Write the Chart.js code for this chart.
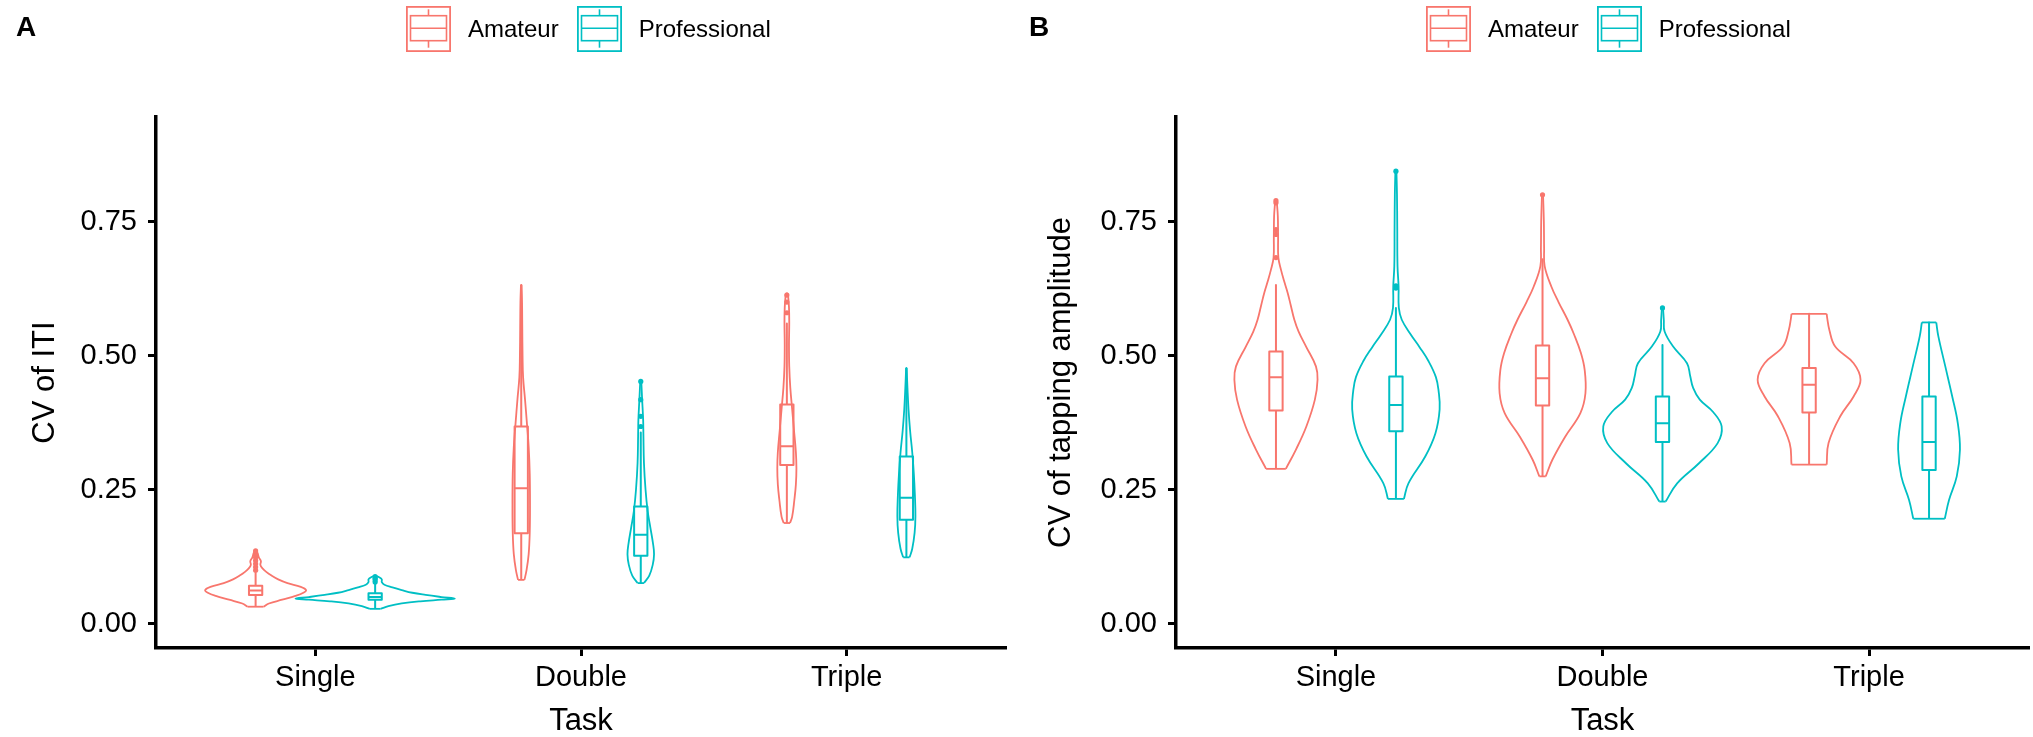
<!DOCTYPE html>
<html>
<head>
<meta charset="utf-8">
<script src="https://cdn.jsdelivr.net/npm/chart.js@4.4.1/dist/chart.umd.min.js"></script>
<style>
  html, body { margin: 0; padding: 0; background: #fff; }
  #wrap { position: relative; width: 2033px; height: 737px; overflow: hidden; background: #fff;
          font-family: "Liberation Sans", Arial, Helvetica, sans-serif; }
  #wrap canvas { position: absolute; top: 0; }
  .tag { position: absolute; top: 13px; font-weight: bold; font-size: 28px; line-height: 28px; color: #000; }
  .legend { position: absolute; top: 6px; height: 46px; display: flex; align-items: center;
            font-size: 24px; line-height: 24px; color: #000; white-space: nowrap; }
  .legend svg { display: block; }
</style>
</head>
<body>
<div id="wrap">
  <canvas id="chartA" width="1016" height="737" style="left:0px"></canvas>
  <canvas id="chartB" width="1017" height="737" style="left:1016px"></canvas>
  <div class="tag" style="left:16px">A</div>
  <div class="tag" style="left:1029px">B</div>
  <div class="legend" id="legendA" style="left:406px"></div>
  <div class="legend" id="legendB" style="left:1426px"></div>
</div>
<script>
// ---------------- data ----------------
const categories = ['Single', 'Double', 'Triple'];
const groups = ['Amateur', 'Professional'];
const yTickValues = [0, 0.25, 0.5, 0.75];

// Panel A : CV of ITI — violin outlines (value, half-width in category units)
const itiAmSingleY = [0.032, 0.038, 0.045, 0.052, 0.058, 0.063, 0.069, 0.076, 0.083, 0.090, 0.097, 0.104, 0.110, 0.117, 0.124, 0.131, 0.136];
const itiAmSingleW = [0.030, 0.050, 0.100, 0.150, 0.180, 0.190, 0.170, 0.120, 0.085, 0.060, 0.040, 0.025, 0.018, 0.020, 0.012, 0.008, 0.004];
const itiProSingleY = [0.028, 0.033, 0.038, 0.042, 0.045, 0.047, 0.050, 0.054, 0.058, 0.063, 0.068, 0.073, 0.078, 0.083, 0.087, 0.089];
const itiProSingleW = [0.020, 0.050, 0.100, 0.170, 0.250, 0.300, 0.250, 0.190, 0.140, 0.100, 0.065, 0.035, 0.025, 0.025, 0.015, 0.004];
const itiAmDoubleY = [0.082, 0.100, 0.130, 0.170, 0.220, 0.280, 0.330, 0.370, 0.420, 0.460, 0.500, 0.550, 0.600, 0.632];
const itiAmDoubleW = [0.012, 0.020, 0.028, 0.032, 0.033, 0.032, 0.028, 0.022, 0.014, 0.007, 0.005, 0.004, 0.003, 0.001];
const itiProDoubleY = [0.076, 0.090, 0.110, 0.130, 0.150, 0.180, 0.210, 0.250, 0.300, 0.350, 0.380, 0.420, 0.452];
const itiProDoubleW = [0.012, 0.032, 0.045, 0.050, 0.046, 0.036, 0.026, 0.018, 0.012, 0.010, 0.009, 0.005, 0.002];
const itiAmTripleY = [0.188, 0.200, 0.230, 0.260, 0.290, 0.320, 0.360, 0.400, 0.440, 0.480, 0.520, 0.560, 0.590, 0.616];
const itiAmTripleW = [0.012, 0.020, 0.028, 0.034, 0.036, 0.034, 0.027, 0.020, 0.013, 0.009, 0.008, 0.009, 0.008, 0.004];
const itiProTripleY = [0.124, 0.140, 0.170, 0.200, 0.240, 0.280, 0.320, 0.360, 0.400, 0.440, 0.477];
const itiProTripleW = [0.012, 0.022, 0.031, 0.034, 0.032, 0.028, 0.022, 0.014, 0.008, 0.004, 0.001];

// Panel A box plots (per task: Single, Double, Triple)
const itiAmLower    = [0.032, 0.082, 0.188];
const itiAmQ1       = [0.054, 0.169, 0.296];
const itiAmMedian   = [0.062, 0.253, 0.331];
const itiAmQ3       = [0.071, 0.368, 0.409];
const itiAmUpper    = [0.095, 0.632, 0.560];
const itiAmOutliers = [[0.100, 0.106, 0.112, 0.118, 0.124, 0.130, 0.136], [], [0.580, 0.600, 0.613]];
const itiProLower    = [0.028, 0.076, 0.124];
const itiProQ1       = [0.045, 0.127, 0.194];
const itiProMedian   = [0.050, 0.166, 0.235];
const itiProQ3       = [0.057, 0.219, 0.312];
const itiProUpper    = [0.075, 0.357, 0.477];
const itiProOutliers = [[0.078, 0.082, 0.085, 0.088], [0.368, 0.387, 0.418, 0.452], []];

// Panel B : CV of tapping amplitude — violin outlines
const ampAmSingleY = [0.289, 0.325, 0.368, 0.418, 0.455, 0.480, 0.517, 0.545, 0.567, 0.595, 0.617, 0.640, 0.660, 0.683, 0.720, 0.760, 0.788];
const ampAmSingleW = [0.037, 0.075, 0.114, 0.146, 0.156, 0.150, 0.113, 0.085, 0.069, 0.055, 0.044, 0.030, 0.019, 0.009, 0.008, 0.007, 0.003];
const ampProSingleY = [0.233, 0.262, 0.312, 0.355, 0.400, 0.435, 0.460, 0.490, 0.515, 0.540, 0.567, 0.589, 0.629, 0.667, 0.740, 0.800, 0.844];
const ampProSingleW = [0.030, 0.047, 0.110, 0.148, 0.164, 0.160, 0.150, 0.122, 0.090, 0.055, 0.022, 0.011, 0.010, 0.006, 0.005, 0.004, 0.002];
const ampAmDoubleY = [0.275, 0.306, 0.349, 0.393, 0.430, 0.474, 0.505, 0.540, 0.567, 0.600, 0.629, 0.667, 0.700, 0.750, 0.800];
const ampAmDoubleW = [0.012, 0.037, 0.085, 0.142, 0.161, 0.158, 0.144, 0.118, 0.094, 0.060, 0.033, 0.008, 0.006, 0.005, 0.002];
const ampProDoubleY = [0.228, 0.262, 0.299, 0.337, 0.368, 0.395, 0.418, 0.440, 0.462, 0.486, 0.517, 0.545, 0.567, 0.589];
const ampProDoubleW = [0.012, 0.055, 0.136, 0.207, 0.222, 0.190, 0.140, 0.115, 0.104, 0.092, 0.040, 0.008, 0.005, 0.002];
const ampAmTripleY = [0.297, 0.337, 0.387, 0.424, 0.455, 0.486, 0.517, 0.548, 0.570, 0.578];
const ampAmTripleW = [0.066, 0.073, 0.117, 0.167, 0.193, 0.167, 0.098, 0.076, 0.068, 0.066];
const ampProTripleY = [0.196, 0.231, 0.275, 0.325, 0.374, 0.424, 0.480, 0.536, 0.562];
const ampProTripleW = [0.059, 0.075, 0.104, 0.116, 0.108, 0.087, 0.061, 0.035, 0.027];

// Panel B box plots
const ampAmLower    = [0.289, 0.275, 0.297];
const ampAmQ1       = [0.398, 0.407, 0.394];
const ampAmMedian   = [0.460, 0.458, 0.446];
const ampAmQ3       = [0.508, 0.519, 0.477];
const ampAmUpper    = [0.632, 0.680, 0.578];
const ampAmOutliers = [[0.683, 0.726, 0.735, 0.785, 0.789], [0.800], []];
const ampProLower    = [0.233, 0.228, 0.196];
const ampProQ1       = [0.359, 0.339, 0.287];
const ampProMedian   = [0.408, 0.374, 0.339];
const ampProQ3       = [0.461, 0.424, 0.424];
const ampProUpper    = [0.589, 0.520, 0.562];
const ampProOutliers = [[0.626, 0.630, 0.844], [0.589], []];

// ---------------- styling ----------------
const groupColors = ['#F8766D', '#00BFC4'];
const dodge = [-0.225, 0.225];
const boxHalf = 0.025;
const FONT = '"Liberation Sans", Arial, Helvetica, sans-serif';

function lineSet(points, color, tension, width) {
  return { data: points, showLine: true, borderColor: color, backgroundColor: color,
           borderWidth: width, pointRadius: 0, pointHoverRadius: 0, tension: tension,
           fill: false, borderJoinStyle: 'round', borderCapStyle: 'butt' };
}

function violinSets(ci, gi, ys, ws) {
  const color = groupColors[gi];
  const cx = ci + 1 + dodge[gi];
  const n = ys.length - 1;
  const right = ys.map((y, i) => ({ x: cx + ws[i], y: y }));
  const left = ys.map((y, i) => ({ x: cx - ws[i], y: y }));
  return [
    lineSet(right, color, 0.4, 1.8),
    lineSet(left, color, 0.4, 1.8),
    lineSet([{ x: cx - ws[0], y: ys[0] }, { x: cx + ws[0], y: ys[0] }], color, 0, 1.8),
    lineSet([{ x: cx - ws[n], y: ys[n] }, { x: cx + ws[n], y: ys[n] }], color, 0, 1.8)
  ];
}

function boxSets(ci, gi, lo, q1, med, q3, hi, outs) {
  const color = groupColors[gi];
  const c = ci + 1 + dodge[gi];
  const l = c - boxHalf, r = c + boxHalf;
  const path = [
    { x: c, y: lo }, { x: c, y: q1 }, { x: l, y: q1 }, { x: l, y: q3 }, { x: c, y: q3 },
    { x: c, y: hi }, { x: c, y: q3 }, { x: r, y: q3 }, { x: r, y: med }, { x: l, y: med },
    { x: r, y: med }, { x: r, y: q1 }, { x: c, y: q1 }
  ];
  const sets = [lineSet(path, color, 0, 2)];
  if (outs.length) {
    sets.push({ data: outs.map(v => ({ x: c, y: v })), showLine: false, pointRadius: 2.6,
                pointHoverRadius: 0, pointBorderWidth: 0, backgroundColor: color, borderColor: color });
  }
  return sets;
}

function buildDatasets(violins, am, pro) {
  let top = [], under = [];
  [am, pro].forEach((s, gi) => {
    for (let ci = 0; ci < categories.length; ci++) {
      top = top.concat(boxSets(ci, gi, s.lower[ci], s.q1[ci], s.median[ci], s.q3[ci], s.upper[ci], s.outliers[ci]));
    }
  });
  violins.forEach(v => { under = under.concat(violinSets(v[0], v[1], v[2], v[3])); });
  return top.concat(under); // first datasets are drawn on top
}

function makeChart(id, yTitle, datasets, yWidth, rightPad) {
  return new Chart(document.getElementById(id), {
    type: 'scatter',
    data: { datasets: datasets },
    options: {
      responsive: false, animation: false, devicePixelRatio: 1,
      layout: { padding: { top: 117, right: rightPad, bottom: 0, left: 0 } },
      plugins: { legend: { display: false }, tooltip: { enabled: false }, title: { display: false } },
      events: [],
      scales: {
        x: {
          type: 'linear', min: 0.4, max: 3.6,
          afterBuildTicks: s => { s.ticks = categories.map((c, i) => ({ value: i + 1 })); },
          afterFit: s => { s.height = 89; },
          ticks: { callback: v => categories[Math.round(v) - 1], color: '#000', padding: 5,
                   maxRotation: 0, autoSkip: false, font: { family: FONT, size: 29 } },
          grid: { display: true, drawOnChartArea: false, drawTicks: true, tickLength: 8,
                  tickColor: '#000', tickWidth: 3, color: '#000' },
          border: { display: true, color: '#000', width: 3.5 },
          title: { display: true, text: 'Task', color: '#000',
                   font: { family: FONT, size: 31, lineHeight: 1 },
                   padding: { top: 0, bottom: 0 } }
        },
        y: {
          type: 'linear', min: -0.045, max: 0.945,
          afterBuildTicks: s => { s.ticks = yTickValues.map(v => ({ value: v })); },
          afterFit: s => { s.width = yWidth; },
          ticks: { callback: v => Number(v).toFixed(2), color: '#000', padding: 11,
                   font: { family: FONT, size: 29 } },
          grid: { display: true, drawOnChartArea: false, drawTicks: true, tickLength: 8,
                  tickColor: '#000', tickWidth: 3, color: '#000' },
          border: { display: true, color: '#000', width: 3.5 },
          title: { display: true, text: yTitle, color: '#000',
                   font: { family: FONT, size: 31, lineHeight: 1 },
                   padding: { top: 30, bottom: 0 } }
        }
      }
    }
  });
}

// legend glyphs
function keySvg(color) {
  return '<svg width="45" height="46" viewBox="0 0 45 46">' +
    '<rect x="0.9" y="0.9" width="43.2" height="44.2" fill="#fff" stroke="' + color + '" stroke-width="1.8"/>' +
    '<line x1="22.5" y1="3.3" x2="22.5" y2="9.7" stroke="' + color + '" stroke-width="1.6"/>' +
    '<rect x="4.5" y="9.7" width="36" height="25" fill="none" stroke="' + color + '" stroke-width="1.6"/>' +
    '<line x1="4.5" y1="22.3" x2="40.5" y2="22.3" stroke="' + color + '" stroke-width="1.6"/>' +
    '<line x1="22.5" y1="34.7" x2="22.5" y2="41.7" stroke="' + color + '" stroke-width="1.6"/>' +
    '</svg>';
}
function fillLegend(id) {
  const el = document.getElementById(id);
  let html = '';
  groups.forEach((g, i) => {
    html += keySvg(groupColors[i]) +
      '<span style="margin-left:17px;margin-right:' + (i === 0 ? 18 : 0) + 'px">' + g + '</span>';
  });
  el.innerHTML = html;
}
fillLegend('legendA');
fillLegend('legendB');

Chart.defaults.font.family = FONT;

const dsA = buildDatasets([
  [0, 0, itiAmSingleY, itiAmSingleW], [0, 1, itiProSingleY, itiProSingleW],
  [1, 0, itiAmDoubleY, itiAmDoubleW], [1, 1, itiProDoubleY, itiProDoubleW],
  [2, 0, itiAmTripleY, itiAmTripleW], [2, 1, itiProTripleY, itiProTripleW]
], { lower: itiAmLower, q1: itiAmQ1, median: itiAmMedian, q3: itiAmQ3, upper: itiAmUpper, outliers: itiAmOutliers },
   { lower: itiProLower, q1: itiProQ1, median: itiProMedian, q3: itiProQ3, upper: itiProUpper, outliers: itiProOutliers });

const dsB = buildDatasets([
  [0, 0, ampAmSingleY, ampAmSingleW], [0, 1, ampProSingleY, ampProSingleW],
  [1, 0, ampAmDoubleY, ampAmDoubleW], [1, 1, ampProDoubleY, ampProDoubleW],
  [2, 0, ampAmTripleY, ampAmTripleW], [2, 1, ampProTripleY, ampProTripleW]
], { lower: ampAmLower, q1: ampAmQ1, median: ampAmMedian, q3: ampAmQ3, upper: ampAmUpper, outliers: ampAmOutliers },
   { lower: ampProLower, q1: ampProQ1, median: ampProMedian, q3: ampProQ3, upper: ampProUpper, outliers: ampProOutliers });

makeChart('chartA', 'CV of ITI', dsA, 156, 10);
makeChart('chartB', 'CV of tapping amplitude', dsB, 160, 4);
</script>
</body>
</html>
